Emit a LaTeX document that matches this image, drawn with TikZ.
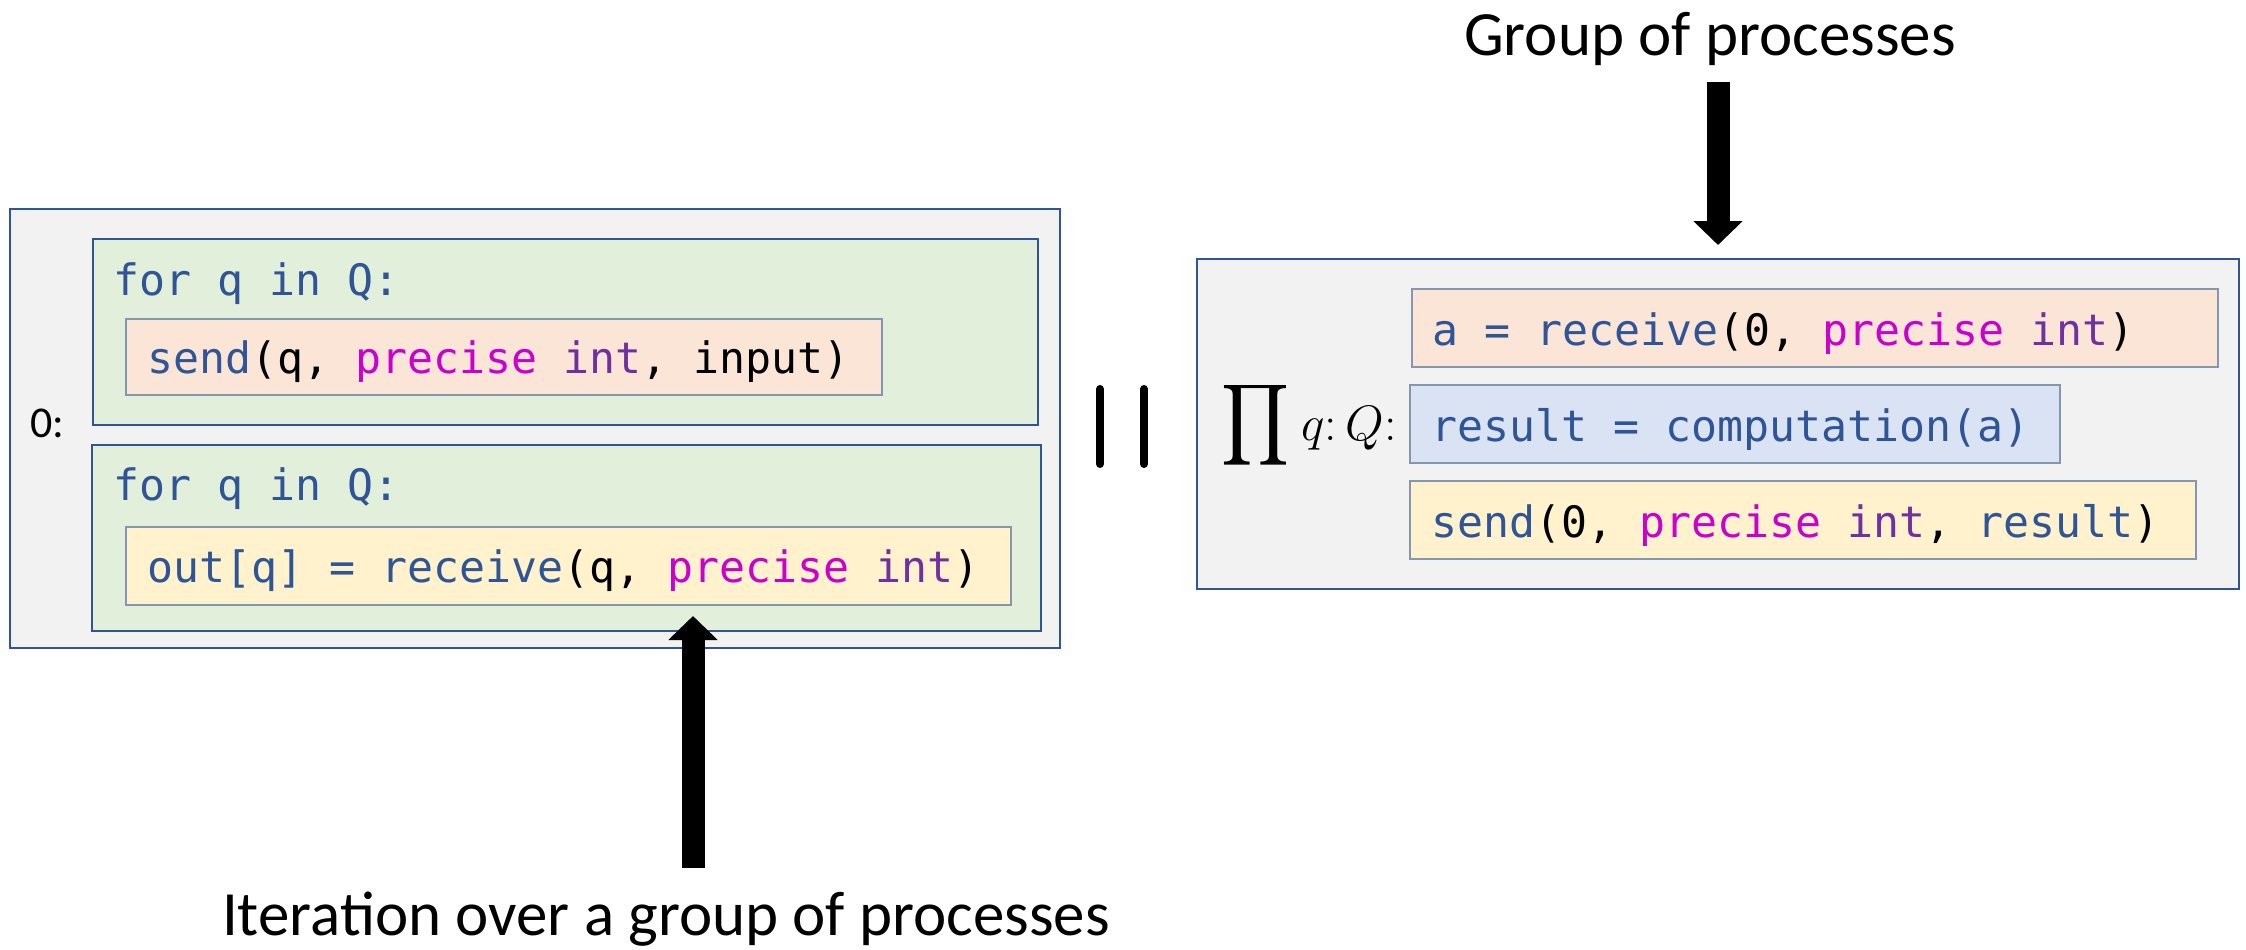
\documentclass[tikz,border=0pt]{standalone}
\usepackage{graphicx}
\usepackage{fontspec}
\setmainfont{Carlito}
\newfontfamily\codefont{DejaVu Sans Mono}
\usetikzlibrary{fit,arrows.meta}
\definecolor{kwblue}{HTML}{2F5597}
\definecolor{kwmag}{HTML}{CC00CC}
\definecolor{kwpur}{HTML}{7030A0}
\definecolor{boxedge}{HTML}{2F5597}
\definecolor{codeedge}{HTML}{8497B0}
\definecolor{greyfill}{HTML}{F2F2F2}
\definecolor{greenfill}{HTML}{E2EFDA}
\definecolor{pinkfill}{HTML}{FBE5D6}
\definecolor{yellowfill}{HTML}{FFF2CC}
\definecolor{bluefill}{HTML}{DAE3F3}
\newcommand{\kb}[1]{\textcolor{kwblue}{#1}}
\newcommand{\km}[1]{\textcolor{kwmag}{#1}}
\newcommand{\kp}[1]{\textcolor{kwpur}{#1}}
\begin{document}
\begin{tikzpicture}[x=0.5pt,y=-0.5pt,
  frame/.style={draw=boxedge, line width=1pt, inner sep=0pt},
  procbox/.style={frame, fill=greyfill},
  loopbox/.style={frame, fill=greenfill},
  codebox/.style={draw=codeedge, line width=0.75pt, inner sep=0pt},
  code/.style={anchor=base west, inner sep=0pt, font=\codefont\fontsize{21.6pt}{26pt}\selectfont},
  caption/.style={anchor=base, inner sep=0pt, font=\fontsize{31.5pt}{38pt}\selectfont},
  bigarrow/.style={line width=11.5pt, -{Triangle[width=24pt,length=12pt]}},
  bar/.style={line width=4pt, line cap=round}]
\useasboundingbox (0,0) rectangle (2246,949);

% left process
\node[procbox, fit={(10,209)(1060,648)}] (lbox) {};
\node[loopbox, fit={(93,239)(1038,425)}] (loop1) {};
\node[codebox, fill=pinkfill, fit={(126,319)(882,395)}] (c1) {};
\node[loopbox, fit={(92,445)(1041,631)}] (loop2) {};
\node[codebox, fill=yellowfill, fit={(126,527)(1011,605)}] (c2) {};

\node[code] (t1) at (113,295) {\kb{for q in Q:}};
\node[code] (t2) at (147,373) {\kb{send}(q, \km{precise} \kp{int}, input)};
\node[code] (t3) at (113,500) {\kb{for q in Q:}};
\node[code] (t4) at (147,582) {\kb{out[q] = receive}(q, \km{precise} \kp{int})};
\node[anchor=base west, inner sep=0pt, font=\fontsize{22pt}{26pt}\selectfont] (zero) at (30,437) {0:};

% parallel bars
\draw[bar] (1100,389) -- (1100,464);
\draw[bar] (1144,389) -- (1144,464);

% right process group
\node[procbox, fit={(1197,259)(2239,589)}] (rbox) {};
\node[codebox, fill=pinkfill, fit={(1412,289)(2218,367)}] (c3) {};
\node[codebox, fill=bluefill, fit={(1410,385)(2060,463)}] (c4) {};
\node[codebox, fill=yellowfill, fit={(1410,481)(2196,559)}] (c5) {};

\node[code] (t5) at (1432,345) {\kb{a = receive}(0, \km{precise} \kp{int})};
\node[code] (t6) at (1431,441) {\kb{result = computation(a)}};
\node[code] (t7) at (1431,537) {\kb{send}(0, \km{precise} \kp{int}, \kb{result})};

\node[inner sep=0pt] (prod) at (1255,425.5) {\resizebox*{34pt}{45.5pt}{$\displaystyle\prod$}};
\node[anchor=base west, inner sep=0pt, font=\fontsize{25pt}{30pt}\selectfont] (qQ) at (1301,440) {$q{:}\,Q{:}$};

% captions and arrows
\node[caption] (grp) at (1710,55) {Group of processes};
\node[caption] (iter) at (666,935) {Iteration over a group of processes};
\draw[bigarrow] ([yshift=88pt]rbox.north) -- ([yshift=6.5pt]rbox.north);
\coordinate (itail) at (693,868);
\coordinate (itip) at (693,616);
\draw[bigarrow] (itail) -- (itip);
\end{tikzpicture}
\end{document}
